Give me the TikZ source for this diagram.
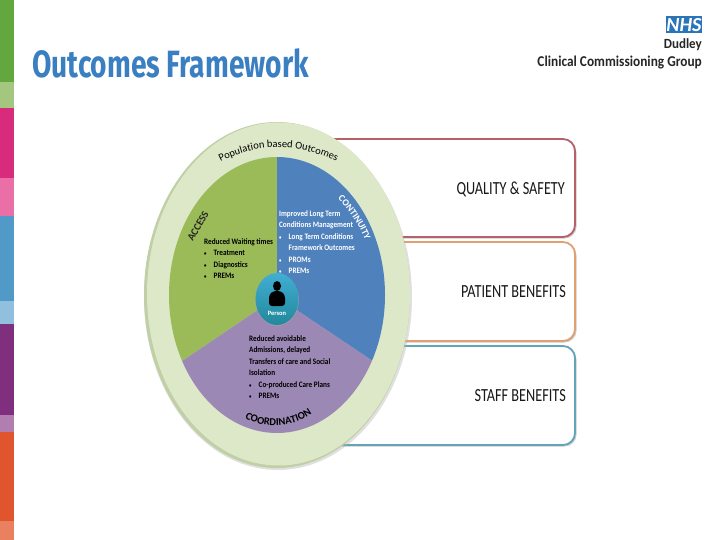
\documentclass[tikz,border=0pt]{standalone}
\usepackage{fontspec}
\setmainfont{Carlito}
\newfontfamily\titlefont{Fira Sans}
\usetikzlibrary{shadows,decorations.text,shapes.geometric}
\definecolor{rimgreen}{HTML}{DDE8C9}
\definecolor{rimdark}{HTML}{C0CFA5}
\definecolor{pgreen}{HTML}{9BBB59}
\definecolor{pblue}{HTML}{4F81BD}
\definecolor{ppurple}{HTML}{9C88B4}
\definecolor{s1}{HTML}{62A83F}\definecolor{s2}{HTML}{A3C77F}
\definecolor{s3}{HTML}{D92B7C}\definecolor{s4}{HTML}{E96FA6}
\definecolor{s5}{HTML}{519AC8}\definecolor{s6}{HTML}{91C0DE}
\definecolor{s7}{HTML}{7F2F7E}\definecolor{s8}{HTML}{B07FB0}
\definecolor{s9}{HTML}{E0552E}\definecolor{s10}{HTML}{E9805F}
\definecolor{titleblue}{HTML}{3A7FC1}
\definecolor{nhsblue}{HTML}{2A74B8}
\definecolor{bred}{HTML}{B8606A}
\definecolor{borange}{HTML}{E0A070}
\definecolor{bteal}{HTML}{62A5B8}
\tikzset{
  benefit/.style={draw=#1,line width=1.8pt,fill=white,rounded corners=12pt,
     drop shadow={shadow xshift=1.5pt,shadow yshift=-1.5pt,fill=black!40,opacity=.5}},
  benefitlabel/.style={anchor=east,inner sep=0pt,font=\fontsize{18.5}{20}\selectfont,text=black!90,xscale=.77},
  blocktext/.style={anchor=north west,inner sep=0pt,align=left,font=\bfseries\fontsize{8.3}{11.5}\selectfont,xscale=.87},
}
\newcommand{\bul}{\makebox[11pt][l]{\fontsize{5.5}{5}\selectfont •}}
\begin{document}
\begin{tikzpicture}[x=1pt,y=-1pt]
\useasboundingbox (0,0) rectangle (720,540);
\fill[white] (0,0) rectangle (720,540);
% side stripes
\fill[s1] (0,0) rectangle (14,82);
\fill[s2] (0,82) rectangle (14,108);
\fill[s3] (0,108) rectangle (14,178);
\fill[s4] (0,178) rectangle (14,216);
\fill[s5] (0,216) rectangle (14,301);
\fill[s6] (0,301) rectangle (14,324);
\fill[s7] (0,324) rectangle (14,415);
\fill[s8] (0,415) rectangle (14,432);
\fill[s9] (0,432) rectangle (14,521);
\fill[s10] (0,521) rectangle (14,540);
% title
\node[anchor=west,inner sep=0pt,text=titleblue,xscale=.74,font=\titlefont\bfseries\fontsize{38}{40}\selectfont] (title) at (32,63) {Outcomes Framework};
% logo
\node[minimum width=36pt,minimum height=17pt,inner sep=0pt,fill=nhsblue,text=white,font=\bfseries\itshape\fontsize{20}{20}\selectfont] (nhs) at (684,25) {NHS};
\node[anchor=east,inner sep=0pt,font=\bfseries\fontsize{14}{15}\selectfont,text=black!85,xscale=.93] (dudley) at (702,45) {Dudley};
\node[anchor=east,inner sep=0pt,font=\bfseries\fontsize{15}{16}\selectfont,text=black!85,xscale=.89] (ccg) at (702,63) {Clinical Commissioning Group};
% benefit boxes
\draw[benefit=bred] (300,139) rectangle (575,237);
\draw[benefit=borange] (300,242) rectangle (575,341);
\draw[benefit=bteal] (300,346) rectangle (575,445);
\node[benefitlabel] (quality) at (565,189) {QUALITY \& SAFETY};
\node[benefitlabel] (patient) at (566,292) {PATIENT BENEFITS};
\node[benefitlabel] (staff) at (566,396) {STAFF BENEFITS};
% disc
\fill[black!30,opacity=.4] (278,297) ellipse [x radius=134pt,y radius=173pt];
\fill[rimdark] (277,295) ellipse [x radius=133pt,y radius=173pt];
\fill[rimgreen] (278.5,294) ellipse [x radius=131.5pt,y radius=171.5pt];
\begin{scope}
\clip (277,295) ellipse [x radius=108pt,y radius=138pt];
\fill[pgreen] (277,297) -- (277,150) -- (160,150) -- (160,376) -- cycle;
\fill[pblue] (277,297) -- (277,150) -- (395,150) -- (395,376) -- cycle;
\fill[ppurple] (277,297) -- (160,376) -- (160,440) -- (395,440) -- (395,376) -- cycle;
\end{scope}
% person
\fill[black!35,opacity=.5] (277,300) ellipse [x radius=22pt,y radius=26pt];
\shade[top color=s5!80!cyan,bottom color=s5!60!cyan!70!black,shading angle=0] (277,299) ellipse [x radius=21.5pt,y radius=26pt];
\fill[black] (277,286) ellipse [x radius=4pt,y radius=5pt];
\fill[black,rounded corners=3pt] (269,306) -- (269,295) -- (273,291) -- (281,291) -- (285,295) -- (285,306) -- cycle;
\node[inner sep=0pt,text=white,font=\bfseries\fontsize{6.5}{7}\selectfont] (person) at (277,313) {Person};
% block texts
\node[blocktext] (accessblock) at (204,238) {Reduced Waiting times\\\bul Treatment\\\bul Diagnostics\\\bul PREMs};
\node[blocktext,text=white] (contblock) at (279,210) {Improved Long Term\\Conditions Management\\\bul Long Term Conditions\\\hspace*{11pt}Framework Outcomes\\\bul PROMs\\\bul PREMs};
\node[blocktext] (coordblock) at (249,335) {Reduced avoidable\\Admissions, delayed\\Transfers of care and Social\\Isolation\\\bul Co-produced Care Plans\\\bul PREMs};
\node[rotate=60,inner sep=0pt,font=\bfseries\fontsize{10.5}{11}\selectfont,text=black!85] (accesslabel) at (198,226) {ACCESS};
% curved labels
\path[decorate,decoration={text along path,text align=center,
  text={|\fontsize{10.5}{11}\selectfont|Population based Outcomes}}]
  (222,161) .. controls (258,143) and (297,143) .. (335,161);
\path[decorate,decoration={text along path,text align=center,
  text color=white,text={|\fontsize{9.5}{11}\selectfont\bfseries|CONTINUITY}}]
  (334,195) .. controls (349,209) and (361,227) .. (367,245);
\path[decorate,decoration={text along path,text align=center,
  text={|\fontsize{10.5}{11}\selectfont\bfseries|COORDINATION}}]
  (248,420) .. controls (265,428) and (290,428) .. (309,416);
\end{tikzpicture}
\end{document}
